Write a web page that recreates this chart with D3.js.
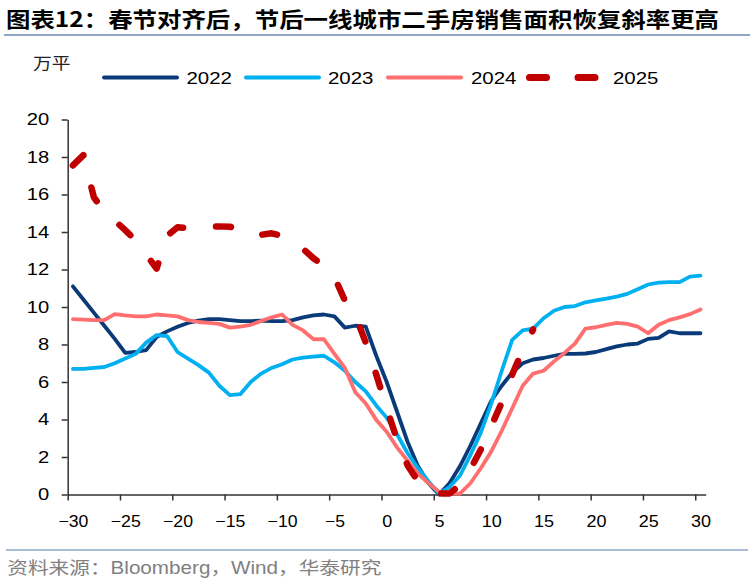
<!DOCTYPE html>
<html><head><meta charset="utf-8">
<script src="https://cdn.jsdelivr.net/npm/d3@7"></script>
<style>body{margin:0;background:#fff} svg{display:block}</style>
</head><body>
<svg id="c" width="752" height="582"></svg>
<script>
// ---- data ----
const days = [-30,-29,-28,-27,-26,-25,-24,-23,-22,-21,-20,-19,-18,-17,-16,-15,-14,-13,-12,-11,-10,-9,-8,-7,-6,-5,-4,-3,-2,-1,0,1,2,3,4,5,6,7,8,9,10,11,12,13,14,15,16,17,18,19,20,21,22,23,24,25,26,27,28,29,30];
const s2022 = [11.1,10.4,9.7,9.0,8.3,7.55,7.6,7.7,8.4,8.7,8.95,9.15,9.27,9.35,9.35,9.3,9.25,9.25,9.27,9.25,9.25,9.3,9.45,9.55,9.6,9.5,8.9,9.0,8.95,7.4,6.0,4.4,2.8,1.5,0.6,0.0,0.6,1.5,2.6,3.8,5.0,5.8,6.5,7.0,7.2,7.28,7.4,7.5,7.5,7.52,7.6,7.75,7.9,8.0,8.05,8.3,8.35,8.7,8.6,8.6,8.6];
const s2023 = [6.7,6.7,6.75,6.8,7.0,7.25,7.5,8.1,8.5,8.45,7.6,7.25,6.9,6.5,5.8,5.3,5.35,6.0,6.45,6.75,6.95,7.2,7.3,7.35,7.4,7.05,6.6,6.0,5.5,4.75,4.1,3.2,2.2,1.4,0.7,0.05,0.4,1.0,2.1,3.3,4.85,6.6,8.25,8.75,8.85,9.4,9.8,10.0,10.05,10.25,10.35,10.45,10.55,10.7,10.95,11.2,11.3,11.33,11.33,11.62,11.67];
const s2024 = [9.35,9.33,9.3,9.3,9.62,9.55,9.5,9.5,9.6,9.55,9.5,9.3,9.2,9.15,9.1,8.9,8.95,9.05,9.25,9.45,9.6,9.05,8.75,8.28,8.28,7.5,6.75,5.45,4.85,3.98,3.35,2.5,1.8,1.1,0.6,0.15,0.05,0.05,0.6,1.4,2.3,3.4,4.6,5.8,6.45,6.6,7.1,7.55,8.05,8.85,8.92,9.05,9.15,9.1,8.95,8.6,9.05,9.3,9.45,9.62,9.87];
const s2025 = [17.55,18.1,15.85,15.1,14.6,14.1,13.55,12.8,12.05,13.8,14.25,14.2,14.25,14.3,14.3,14.28,14.15,13.85,13.85,13.93,13.8,13.5,13.1,12.6,12.2,11.6,10.35,9.55,8.1,6.4,4.6,2.9,1.55,0.7,0.25,0.05,0.05,0.5,1.35,2.4,3.65,4.9,6.4,7.7,8.8];
const seriesNames = ["2022","2023","2024","2025"];
const xTicks = [-30,-25,-20,-15,-10,-5,0,5,10,15,20,25,30];
const yTicks = [0,2,4,6,8,10,12,14,16,18,20];
const titleText = "图表12：春节对齐后，节后一线城市二手房销售面积恢复斜率更高";
const unitText = "万平";
const sourceText = "资料来源：Bloomberg，Wind，华泰研究";

// ---- styles ----
const colors = {"2022":"#0b3a78","2023":"#00b0f0","2024":"#ff6f6f","2025":"#c00000"};
const allSeries = {"2022":s2022,"2023":s2023,"2024":s2024,"2025":s2025};

const svg = d3.select("#c");
const x = d3.scaleLinear().domain([-30,31]).range([67.7,705.7]);
const y = d3.scaleLinear().domain([0,20]).range([494.5,119.5]);
const half = (x(1)-x(0))/2;

// title
svg.append("text").attr("x",6).attr("y",26.5)
  .attr("font-family","'Noto Sans CJK SC'").attr("font-weight",700).attr("font-size",21)
  .attr("fill","#000").attr("textLength",713).attr("lengthAdjust","spacingAndGlyphs")
  .text(titleText);
svg.append("line").attr("x1",4).attr("x2",750).attr("y1",35).attr("y2",35)
  .attr("stroke","#8fa6c8").attr("stroke-width",2);

// unit
svg.append("text").attr("x",33).attr("y",68.5)
  .attr("font-family","'Noto Sans CJK SC'").attr("font-size",16).attr("fill","#222")
  .attr("textLength",37.5).attr("lengthAdjust","spacingAndGlyphs")
  .text(unitText);

// axes
const yAxis = svg.append("g").attr("transform",`translate(${x(-30)},0)`)
  .call(d3.axisLeft(y).tickValues(yTicks).tickSize(6).tickSizeOuter(0).tickPadding(12.5));
const xAxis = svg.append("g").attr("transform",`translate(0,${y(0)})`)
  .call(d3.axisBottom(x).tickValues(xTicks).tickSize(6).tickSizeOuter(0));
[yAxis,xAxis].forEach(a=>{
  a.selectAll("path,line").attr("stroke","#333").attr("stroke-width",1.5);
  a.selectAll("text").attr("fill","#000").attr("font-family","'Liberation Sans',Arial,sans-serif");
});
yAxis.selectAll("text").attr("font-size",16).each(function(d){
  const s = String(d);
  d3.select(this).attr("textLength", s.length*11.2).attr("lengthAdjust","spacingAndGlyphs");
});
xAxis.selectAll("text").attr("font-size",16.5).attr("x",half).attr("y",32).attr("dy",0).each(function(d){
  const s = String(d);
  const n = s.replace("-","").length;
  d3.select(this).attr("textLength", n*10 + (s.startsWith("-")?10:0)).attr("lengthAdjust","spacingAndGlyphs");
});

// lines
const line = d3.line().x((v,i)=>x(days[i]+0.5)).y(v=>y(v));
seriesNames.forEach(name=>{
  const p = svg.append("path").datum(allSeries[name]).attr("d",line)
    .attr("fill","none").attr("stroke",colors[name])
    .attr("stroke-linejoin","round");
  if(name==="2025"){
    p.attr("stroke-width",6.5).attr("stroke-dasharray","15,33").attr("stroke-linecap","round");
  } else {
    p.attr("stroke-width",3.8).attr("stroke-linecap","round");
  }
});

// legend
const legend = [
  {name:"2022", x1:104, x2:177, tx:186.5},
  {name:"2023", x1:246, x2:319, tx:328},
  {name:"2024", x1:388, x2:461, tx:471},
  {name:"2025", x1:529.5, x2:595, tx:613}
];
const lg = svg.append("g");
legend.forEach(l=>{
  const ln = lg.append("line").attr("x1",l.x1).attr("x2",l.x2).attr("y1",77.5).attr("y2",77.5)
    .attr("stroke",colors[l.name]).attr("stroke-linecap","round");
  if(l.name==="2025") ln.attr("stroke-width",7).attr("stroke-dasharray","17,31.5");
  else ln.attr("stroke-width",4);
  lg.append("text").attr("x",l.tx).attr("y",83.5)
    .attr("font-family","'Liberation Sans',Arial,sans-serif").attr("font-size",17).attr("fill","#000")
    .attr("textLength",45.5).attr("lengthAdjust","spacingAndGlyphs").text(l.name);
});

// source
svg.append("line").attr("x1",6).attr("x2",748).attr("y1",550).attr("y2",550)
  .attr("stroke","#8fa6c8").attr("stroke-width",1.5);
svg.append("text").attr("x",7.3).attr("y",573.5)
  .attr("font-family","'Liberation Sans','Noto Sans CJK SC',sans-serif").attr("font-size",17.5).attr("fill","#808080")
  .attr("textLength",374).attr("lengthAdjust","spacingAndGlyphs").text(sourceText);
</script>
</body></html>
